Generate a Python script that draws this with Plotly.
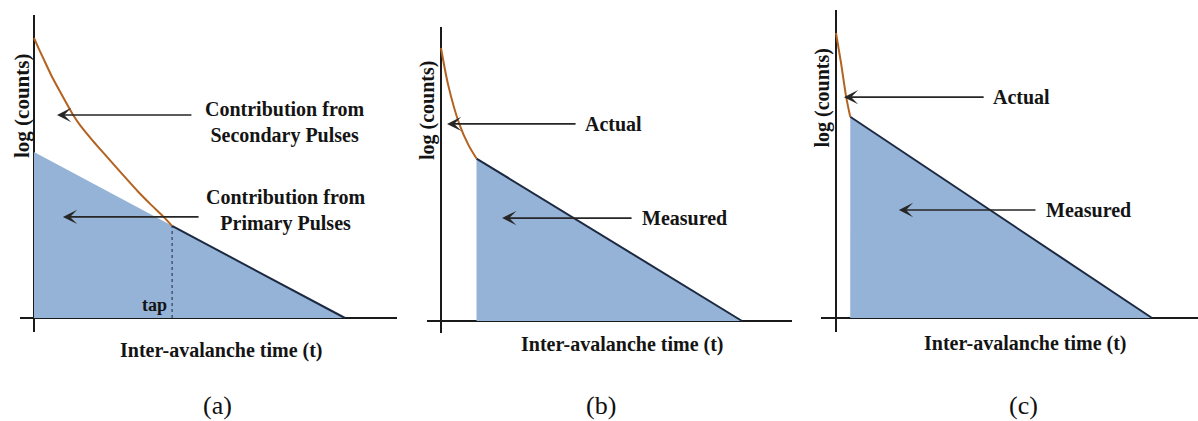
import plotly.graph_objects as go

# ---------------- data (t = inter-avalanche time, y = log counts) ----------------
# Panel (a)
a_secondary_t = [0, 0.145, 0.30, 0.55, 0.84, 1.26, 1.48, 1.90, 2.39, 2.86, 3.35, 3.76, 4.16, 4.44]
a_secondary_y = [10, 9.64, 9.27, 8.68, 8.08, 7.25, 6.89, 6.32, 5.70, 5.11, 4.51, 4.05, 3.62, 3.29]
a_primary_t = [0, 4.44, 10]
a_primary_y = [5.93, 3.29, 0]
a_tap = 4.44

# Panel (b)
b_actual_t = [0, 0.24, 0.61, 0.91, 1.18]
b_actual_y = [10, 8.64, 7.21, 6.45, 5.95]
b_measured_t = [1.18, 10]
b_measured_y = [5.95, 0]

# Panel (c)
c_actual_t = [0, 0.16, 0.32, 0.45]
c_actual_y = [10, 8.94, 7.77, 7.06]
c_measured_t = [0.45, 10]
c_measured_y = [7.06, 0]

panel_labels = ["(a)", "(b)", "(c)"]
x_title = "Inter-avalanche time (t)"
y_title = "log (counts)"

# ---------------- styling ----------------
W, H = 1198, 421
BLUE = "#95B3D7"
BROWN = "#B4621F"
NAVY = "#1C2940"
AX = "#1a1a1a"
ARROW = "#262626"
TXT = "#141414"
FONT = "Liberation Serif, Times New Roman, serif"


def xdom(p0, p1):
    return [p0 / W, p1 / W]


def ydom(top, bottom):
    return [1 - bottom / H, 1 - top / H]


fig = go.Figure()

# Panel (a)
fig.add_trace(go.Scatter(x=a_primary_t, y=a_primary_y, mode="lines", fill="tozeroy",
                         fillcolor=BLUE, line=dict(width=0, color=BLUE),
                         xaxis="x", yaxis="y", hoverinfo="skip"))
fig.add_trace(go.Scatter(x=a_primary_t[1:], y=a_primary_y[1:], mode="lines",
                         line=dict(width=2, color=NAVY), xaxis="x", yaxis="y"))
fig.add_trace(go.Scatter(x=[a_tap, a_tap], y=[0, a_primary_y[1]], mode="lines",
                         line=dict(width=1, color=NAVY, dash="dot"), xaxis="x", yaxis="y"))
fig.add_trace(go.Scatter(x=a_secondary_t, y=a_secondary_y, mode="lines",
                         line=dict(width=2, color=BROWN, shape="spline", smoothing=0.6),
                         xaxis="x", yaxis="y"))

# Panel (b)
fig.add_trace(go.Scatter(x=b_measured_t, y=b_measured_y, mode="lines", fill="tozeroy",
                         fillcolor=BLUE, line=dict(width=2, color=NAVY),
                         xaxis="x2", yaxis="y2"))
fig.add_trace(go.Scatter(x=b_actual_t, y=b_actual_y, mode="lines",
                         line=dict(width=2, color=BROWN, shape="spline", smoothing=0.8),
                         xaxis="x2", yaxis="y2"))

# Panel (c)
fig.add_trace(go.Scatter(x=c_measured_t, y=c_measured_y, mode="lines", fill="tozeroy",
                         fillcolor=BLUE, line=dict(width=2, color=NAVY),
                         xaxis="x3", yaxis="y3"))
fig.add_trace(go.Scatter(x=c_actual_t, y=c_actual_y, mode="lines",
                         line=dict(width=2, color=BROWN, shape="spline", smoothing=0.8),
                         xaxis="x3", yaxis="y3"))

axis_common = dict(showgrid=False, showticklabels=False, ticks="", showline=False,
                   zeroline=True, zerolinecolor=AX, zerolinewidth=2, fixedrange=True)

layout_axes = dict(
    xaxis=dict(domain=xdom(20, 397), range=[-0.450, 11.672], anchor="y", **axis_common),
    yaxis=dict(domain=ydom(15, 332), range=[-0.5, 10.821], anchor="x", **axis_common),
    xaxis2=dict(domain=xdom(427, 792), range=[-0.465, 11.661], anchor="y2", **axis_common),
    yaxis2=dict(domain=ydom(27, 333), range=[-0.44, 10.769], anchor="x2", **axis_common),
    xaxis3=dict(domain=xdom(821, 1198), range=[-0.475, 11.456], anchor="y3", **axis_common),
    yaxis3=dict(domain=ydom(10, 332), range=[-0.491, 10.807], anchor="x3", **axis_common),
)

ann = []


def arrow(xr, yr, head_x, tail_x, yv):
    ann.append(dict(xref=xr, yref=yr, axref=xr, ayref=yr, x=head_x, y=yv, ax=tail_x, ay=yv,
                    text="", showarrow=True, arrowhead=3, arrowsize=1.4, arrowwidth=1.7,
                    arrowcolor=ARROW, standoff=0, startstandoff=0))


def label(xr, yr, x, y, text, size=20, xanchor="center", align="center"):
    ann.append(dict(xref=xr, yref=yr, x=x, y=y, text=text, showarrow=False,
                    xanchor=xanchor, yanchor="middle", align=align,
                    font=dict(family=FONT, size=size, color=TXT)))


# Panel (a) arrows and texts
arrow("x", "y", 0.74, 5.11, 7.25)
arrow("x", "y", 0.93, 5.34, 3.61)
label("x", "y", 8.07, 6.98, "<b>Contribution from<br>Secondary Pulses</b>")
label("x", "y", 8.10, 3.84, "<b>Contribution from<br>Primary Pulses</b>")
label("x", "y", 3.89, 0.46, "<b>tap</b>", size=18)

# Panel (b)
arrow("x2", "y2", 0.20, 4.52, 7.22)
arrow("x2", "y2", 2.03, 6.38, 3.77)
label("x2", "y2", 4.72, 7.22, "<b>Actual</b>", xanchor="left")
label("x2", "y2", 6.61, 3.77, "<b>Measured</b>", xanchor="left")

# Panel (c)
arrow("x3", "y3", 0.25, 4.72, 7.75)
arrow("x3", "y3", 1.99, 6.36, 3.79)
label("x3", "y3", 4.91, 7.75, "<b>Actual</b>", xanchor="left")
label("x3", "y3", 6.58, 3.79, "<b>Measured</b>", xanchor="left")

# Axis titles and panel labels (paper coordinates = pixel positions)
for cx, cy in [(221, 350), (622, 344), (1025, 343)]:
    label("paper", "paper", cx / W, 1 - cy / H, "<b>" + x_title + "</b>")

for cx, cy, sz in [(22, 106, 21), (427, 111, 20), (822, 98.5, 20)]:
    ann.append(dict(xref="paper", yref="paper", x=cx / W, y=1 - cy / H,
                    text="<b>" + y_title + "</b>", showarrow=False, textangle=-90,
                    xanchor="center", yanchor="middle",
                    font=dict(family=FONT, size=sz, color=TXT)))

for lab, cx in zip(panel_labels, [217, 601, 1023]):
    ann.append(dict(xref="paper", yref="paper", x=cx / W, y=1 - 405 / H, text=lab,
                    showarrow=False, xanchor="center", yanchor="middle",
                    font=dict(family=FONT, size=26, color="#111")))

fig.update_layout(
    width=W, height=H, autosize=False,
    margin=dict(l=0, r=0, t=0, b=0, pad=0),
    paper_bgcolor="white", plot_bgcolor="white",
    showlegend=False,
    annotations=ann,
    **layout_axes,
)

fig.write_html("out.html", config={"displayModeBar": False})
